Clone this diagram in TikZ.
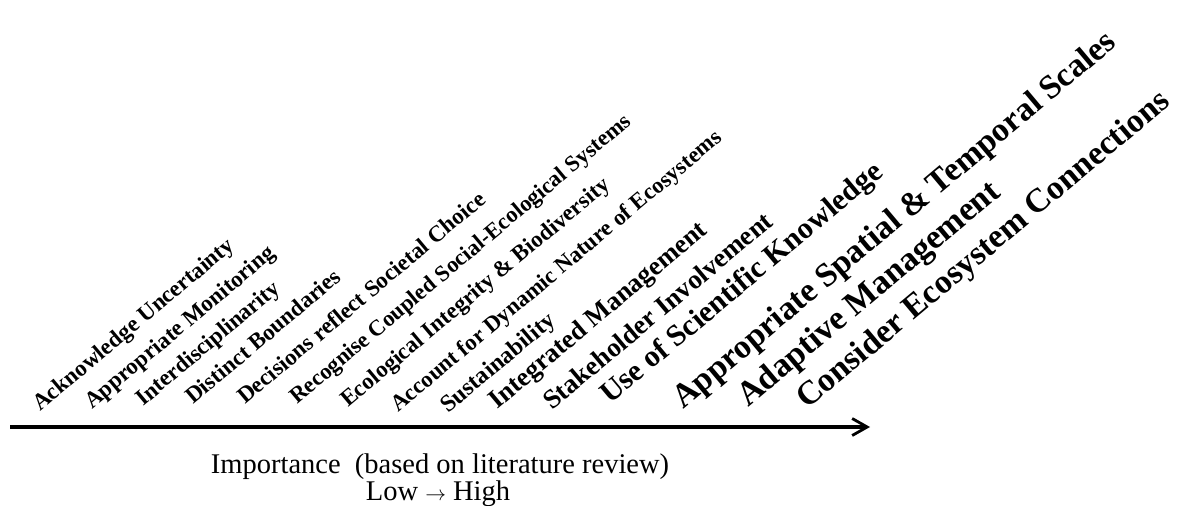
\documentclass[tikz,border=0pt]{standalone}
\usepackage{fontspec}
\setmainfont{Liberation Serif}
\usetikzlibrary{arrows.meta}
\tikzset{
  lbl/.style={anchor=base west, rotate=40, inner sep=0pt, font=\bfseries\fontsize{#1}{#1}\selectfont},
  axis/.style={line width=3.2pt, -{Straight Barb[length=15pt,width=17pt,line width=2.8pt]}},
  caption/.style={align=center, inner sep=0pt, font=\fontsize{28.5}{27}\selectfont}
}
\begin{document}
\begin{tikzpicture}[x=1pt,y=1pt]
\useasboundingbox (0,0) rectangle (1178,-506);
\node[lbl=23] (l1) at (40,-412) {Acknowledge Uncertainty};
\node[lbl=23] (l2) at (92,-410) {Appropriate Monitoring};
\node[lbl=23] (l3) at (143,-407) {Interdisciplinarity};
\node[lbl=23] (l4) at (193,-405) {Distinct Boundaries};
\node[lbl=23] (l5) at (245,-405) {Decisions reflect Societal Choice};
\node[lbl=22.6] (l6) at (297,-405) {Recognise Coupled Social-Ecological Systems};
\node[lbl=23] (l7) at (348,-408) {Ecological Integrity \& Biodiversity};
\node[lbl=22.8] (l8) at (398,-413) {Account for Dynamic Nature of Ecosystems};
\node[lbl=24] (l9) at (448,-414) {Sustainability};
\node[lbl=26.6] (l10) at (497,-410) {Integrated Management};
\node[lbl=27] (l11) at (552,-411) {Stakeholder Involvement};
\node[lbl=30.2] (l12) at (610,-405) {Use of Scientific Knowledge};
\node[lbl=33.6] (l13) at (683,-410) {Appropriate Spatial \& Temporal Scales};
\node[lbl=34] (l14) at (748,-408) {Adaptive Management};
\node[lbl=33.6] (l15) at (807,-410) {Consider Ecosystem Connections};
\coordinate (a0) at (10,-427);
\coordinate (a1) at (870,-427);
\draw[axis] (a0) -- (a1);
\node[caption, anchor=base] (imp) at (440,-473) {Importance\ \ (based on literature review)};
\node[caption, anchor=base] (lh) at (438,-500) {Low {\fontsize{22}{22}\selectfont\(\rightarrow\)} High};
\end{tikzpicture}
\end{document}
